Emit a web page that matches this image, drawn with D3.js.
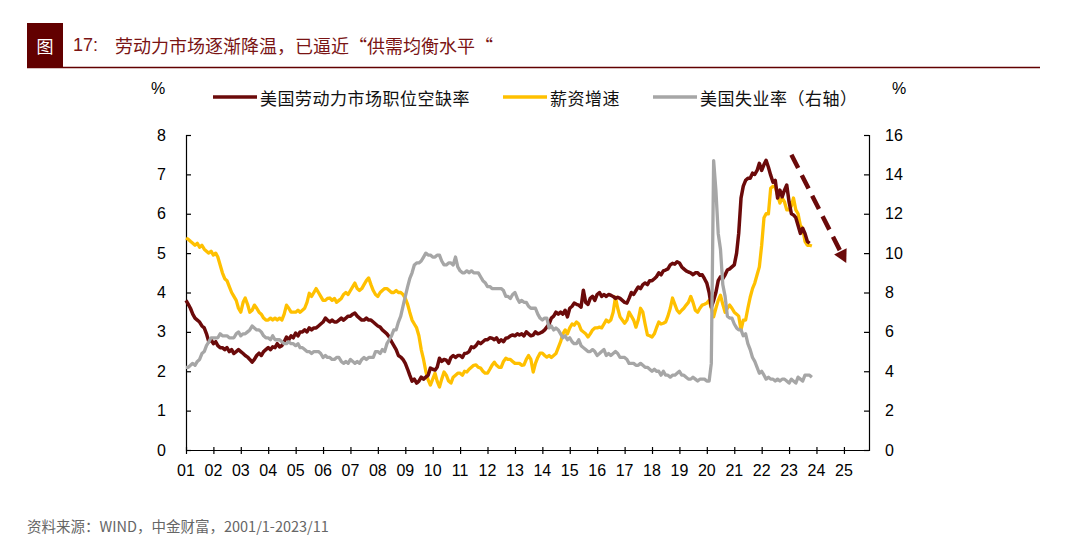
<!DOCTYPE html>
<html><head><meta charset="utf-8">
<script src="https://cdn.jsdelivr.net/npm/d3@7/dist/d3.min.js"></script>
<style>body{margin:0;background:#fff}svg{display:block}</style>
</head><body><svg id="c" width="1080" height="551"></svg>
<script>
// ---------- data ----------
const yearLabels = ["01","02","03","04","05","06","07","08","09","10","11","12","13","14","15","16","17","18","19","20","21","22","23","24","25"];
const seriesNames = ["美国劳动力市场职位空缺率","薪资增速","美国失业率（右轴）"];
const leftTicks = [0,1,2,3,4,5,6,7,8];
const rightTicks = [0,2,4,6,8,10,12,14,16];
const startYear = 2001; // monthly series start Jan 2001

// job openings rate (%), monthly 2001/1 - 2023/10
const jobOpenings = [
3.8,3.7,3.6,3.45,3.35,3.3,3.25,3.15,3.1,2.95,2.75,2.8,
2.7,2.75,2.65,2.6,2.6,2.55,2.6,2.5,2.55,2.45,2.5,2.55,
2.5,2.45,2.4,2.36,2.3,2.23,2.3,2.4,2.46,2.4,2.5,2.55,
2.6,2.55,2.62,2.6,2.7,2.62,2.65,2.75,2.87,2.8,2.9,2.85,
2.97,2.9,3.0,3.0,3.05,3.0,3.1,3.05,3.1,3.1,3.15,3.2,
3.25,3.35,3.3,3.25,3.3,3.25,3.25,3.3,3.35,3.3,3.35,3.4,
3.4,3.45,3.48,3.4,3.35,3.3,3.3,3.35,3.3,3.3,3.25,3.2,
3.15,3.12,3.05,3.0,2.95,2.87,2.75,2.65,2.55,2.4,2.36,2.3,
2.2,2.05,1.9,1.75,1.8,1.7,1.75,1.85,1.8,1.85,1.9,2.08,
2.05,2.03,2.1,2.33,2.25,2.3,2.28,2.2,2.35,2.4,2.35,2.4,
2.4,2.35,2.45,2.46,2.5,2.62,2.6,2.65,2.74,2.7,2.75,2.8,
2.8,2.85,2.84,2.8,2.85,2.74,2.8,2.75,2.84,2.85,2.9,2.92,
2.9,2.95,2.92,2.95,2.9,3.0,2.95,2.9,2.92,3.0,2.95,2.97,
3.0,3.05,3.12,3.2,3.35,3.4,3.5,3.45,3.5,3.45,3.55,3.38,
3.6,3.65,3.73,3.7,3.68,3.63,4.06,3.75,3.7,3.85,3.9,3.8,
3.95,4.0,3.9,3.95,3.9,3.95,3.93,3.9,3.85,3.88,3.85,3.8,
3.75,3.73,3.85,4.0,3.95,4.05,4.14,4.1,4.2,4.24,4.2,4.3,
4.3,4.35,4.4,4.5,4.45,4.55,4.57,4.6,4.7,4.74,4.72,4.78,
4.75,4.65,4.6,4.55,4.52,4.5,4.45,4.5,4.5,4.44,4.45,4.35,
4.24,4.0,3.63,3.8,4.0,4.3,4.4,4.35,4.45,4.57,4.6,4.65,
4.7,5.0,5.5,6.4,6.7,6.85,6.9,6.9,7.03,7.0,7.1,7.28,
7.1,7.25,7.36,7.18,6.98,6.8,6.85,6.4,6.6,6.43,6.6,6.73,
6.3,6.0,5.97,5.9,5.7,5.5,5.63,5.5,5.3,5.25
];

// wage growth (%), monthly 2001/1 - 2023/11
const wageGrowth = [
5.38,5.35,5.3,5.25,5.2,5.25,5.15,5.2,5.1,5.05,5.0,5.05,
4.95,5.0,4.9,4.7,4.5,4.35,4.3,4.15,4.0,3.9,3.8,3.6,
3.5,3.75,3.86,3.7,3.5,3.55,3.68,3.6,3.5,3.45,3.35,3.3,
3.3,3.35,3.3,3.35,3.3,3.35,3.3,3.45,3.68,3.6,3.5,3.5,
3.5,3.55,3.5,3.55,3.6,3.75,3.98,3.9,4.0,4.1,4.0,3.9,
3.8,3.8,3.85,3.86,3.8,3.85,3.75,3.8,3.85,3.95,4.0,3.95,
4.05,4.15,4.24,4.1,4.05,4.1,4.2,4.3,4.37,4.2,4.05,3.95,
3.9,4.0,4.05,4.1,4.1,4.05,4.0,4.0,4.05,4.0,4.0,3.95,
3.85,3.7,3.5,3.3,3.2,3.1,2.9,2.55,2.3,2.0,1.78,1.65,
1.8,1.95,1.75,1.6,1.8,1.98,1.9,1.75,1.7,1.85,1.9,1.95,
1.95,1.9,2.0,1.98,2.05,2.1,2.15,2.16,2.1,2.08,2.0,1.95,
1.95,2.05,2.15,2.23,2.15,2.1,2.1,2.25,2.33,2.3,2.3,2.25,
2.2,2.2,2.2,2.15,2.16,2.3,2.4,2.3,1.98,2.2,2.35,2.46,
2.46,2.4,2.36,2.4,2.35,2.4,2.45,2.6,2.75,2.95,3.05,2.95,
3.1,3.2,3.17,3.25,3.2,3.05,3.0,2.95,2.87,2.95,3.05,3.1,
3.1,3.12,3.1,3.2,3.3,3.25,3.3,3.5,3.88,3.6,3.38,3.3,
3.22,3.3,3.5,3.4,3.3,3.12,3.3,3.6,3.5,3.2,2.92,2.9,
2.87,2.95,3.1,3.25,3.2,3.22,3.25,3.4,3.6,3.86,3.7,3.55,
3.48,3.55,3.6,3.68,3.75,3.9,3.75,3.55,3.5,3.6,3.68,3.7,
3.73,3.8,3.6,3.38,3.6,3.8,3.93,3.7,3.5,3.6,3.68,3.6,
3.5,3.45,3.4,3.05,3.3,3.3,3.6,3.88,4.1,4.24,4.45,4.65,
5.2,5.9,6.0,6.0,6.65,6.7,6.68,6.47,6.27,6.4,6.3,6.1,
6.1,6.2,6.4,6.1,6.0,5.7,5.63,5.3,5.2,5.2,5.18
];

// unemployment rate (%), monthly 2001/1 - 2023/11 (right axis)
const unemployment = [
4.2,4.2,4.3,4.4,4.3,4.5,4.6,4.9,5.0,5.3,5.5,5.7,
5.7,5.7,5.7,5.9,5.8,5.8,5.8,5.7,5.7,5.7,5.9,6.0,
5.8,5.9,5.9,6.0,6.1,6.3,6.2,6.1,6.1,6.0,5.8,5.7,
5.7,5.6,5.8,5.6,5.6,5.6,5.5,5.4,5.4,5.5,5.4,5.4,
5.3,5.4,5.2,5.2,5.1,5.0,5.0,4.9,5.0,5.0,5.0,4.9,
4.7,4.8,4.7,4.7,4.6,4.6,4.7,4.7,4.5,4.4,4.5,4.4,
4.6,4.5,4.4,4.5,4.4,4.6,4.7,4.6,4.7,4.7,4.7,5.0,
5.0,4.9,5.1,5.0,5.4,5.6,5.8,6.1,6.1,6.5,6.8,7.3,
7.8,8.3,8.7,9.0,9.4,9.5,9.5,9.6,9.8,10.0,9.9,9.9,
9.8,9.8,9.9,9.9,9.6,9.4,9.4,9.5,9.5,9.4,9.8,9.3,
9.1,9.0,9.0,9.1,9.0,9.1,9.0,9.0,9.0,8.8,8.6,8.5,
8.3,8.3,8.2,8.2,8.2,8.2,8.2,8.1,7.8,7.8,7.7,7.9,
8.0,7.7,7.5,7.6,7.5,7.5,7.3,7.2,7.2,7.2,6.9,6.7,
6.6,6.7,6.7,6.2,6.3,6.1,6.2,6.1,5.9,5.7,5.8,5.6,
5.7,5.5,5.4,5.4,5.6,5.3,5.2,5.1,5.0,5.0,5.1,5.0,
4.8,4.9,5.0,5.1,4.8,4.9,4.8,4.9,5.0,4.9,4.7,4.7,
4.7,4.6,4.4,4.4,4.4,4.3,4.3,4.4,4.3,4.2,4.2,4.1,
4.0,4.1,4.0,4.0,3.8,4.0,3.8,3.8,3.7,3.8,3.8,3.9,
4.0,3.8,3.8,3.7,3.6,3.6,3.7,3.6,3.5,3.6,3.6,3.6,
3.5,3.5,4.4,14.7,13.2,11.0,10.2,8.4,7.8,6.8,6.7,6.7,
6.4,6.2,6.1,6.1,5.8,5.9,5.4,5.1,4.7,4.5,4.2,3.9,
4.0,3.8,3.6,3.7,3.6,3.6,3.5,3.6,3.5,3.6,3.6,3.5,
3.4,3.6,3.5,3.4,3.7,3.6,3.5,3.8,3.8,3.8,3.7
];

// annotation arrow (trend), in data units: [year, month index, left-axis value]
const arrowFrom = [2023, 1, 7.5];
const arrowTo = [2025, 1, 4.75];

// ---------- drawing ----------
const svg = d3.select("#c");
const CJK = "'Noto Sans CJK SC','Noto Sans',sans-serif";
const NUM = "'Liberation Sans',Arial,sans-serif";
const darkRed = "#6B0A0A", gold = "#FFC000", grey = "#A6A6A6";

svg.append("rect").attr("width",1080).attr("height",551).attr("fill","#fff");

// title block
svg.append("rect").attr("x",27).attr("y",23).attr("width",36).attr("height",44).attr("fill","#620000");
svg.append("text").attr("x",45).attr("y",45).attr("text-anchor","middle").attr("dominant-baseline","central")
  .attr("fill","#fff").style("font-family",CJK).style("font-size","17px").text("图");
svg.append("text").attr("x",73).attr("y",45).attr("dominant-baseline","central")
  .attr("fill","#7A1414").style("font-family",NUM).style("font-size","18px").text("17:");
svg.append("text").attr("x",115).attr("y",45).attr("dominant-baseline","central")
  .attr("fill","#7A1414").style("font-family",CJK).style("font-size","18px")
  .text("劳动力市场逐渐降温，已逼近“供需均衡水平“");
svg.append("line").attr("x1",27).attr("x2",1040).attr("y1",67.5).attr("y2",67.5)
  .attr("stroke","#620000").attr("stroke-width",1.6);

// scales
const x = d3.scaleTime().domain([new Date(2001,0,1), new Date(2025,11,1)]).range([186,869]);
const yL = d3.scaleLinear().domain([0,8]).range([450,135]);
const yR = d3.scaleLinear().domain([0,16]).range([450,135]);
const dateOf = i => new Date(startYear, i, 1);

// axes
const gL = svg.append("g").attr("transform","translate(186,0)")
  .call(d3.axisRight(yL).tickValues(leftTicks).tickSize(5).tickFormat(""));
const gR = svg.append("g").attr("transform","translate(869,0)")
  .call(d3.axisLeft(yR).tickValues(rightTicks).tickSize(5).tickFormat(""));
[gL,gR].forEach(g=>{g.select(".domain").attr("stroke","#000").attr("stroke-width",1.2);
  g.selectAll(".tick line").attr("stroke","#000").attr("stroke-width",1.2);});

svg.append("g").selectAll("text").data(leftTicks).join("text")
  .attr("x",166).attr("y",d=>yL(d)).attr("text-anchor","end").attr("dominant-baseline","central")
  .style("font-family",NUM).style("font-size","16px").attr("fill","#000").text(d=>d);
svg.append("g").selectAll("text").data(rightTicks).join("text")
  .attr("x",885).attr("y",d=>yR(d)).attr("text-anchor","start").attr("dominant-baseline","central")
  .style("font-family",NUM).style("font-size","16px").attr("fill","#000").text(d=>d);

const yearDates = yearLabels.map(s=>new Date(2000+(+s),0,1));
const gX = svg.append("g").attr("transform","translate(0,450)")
  .call(d3.axisBottom(x).tickValues(yearDates).tickSizeInner(4).tickSizeOuter(0).tickFormat(""));
gX.select(".domain").attr("stroke","#000").attr("stroke-width",1.2);
gX.selectAll(".tick line").attr("stroke","#000").attr("stroke-width",1.2).attr("y1",-3).attr("y2",4);
svg.append("g").selectAll("text").data(yearLabels).join("text")
  .attr("x",(d,i)=>x(yearDates[i])).attr("y",470).attr("text-anchor","middle").attr("dominant-baseline","central")
  .style("font-family",NUM).style("font-size","16px").attr("fill","#000").text(d=>d);

// % units
svg.append("text").attr("x",158).attr("y",88).attr("text-anchor","middle").attr("dominant-baseline","central")
  .style("font-family",NUM).style("font-size","16px").text("%");
svg.append("text").attr("x",899).attr("y",88).attr("text-anchor","middle").attr("dominant-baseline","central")
  .style("font-family",NUM).style("font-size","16px").text("%");

// lines
const lineL = d3.line().x((d,i)=>x(dateOf(i))).y(d=>yL(d));
const lineR = d3.line().x((d,i)=>x(dateOf(i))).y(d=>yR(d));
svg.append("path").datum(wageGrowth).attr("d",lineL).attr("fill","none")
  .attr("stroke",gold).attr("stroke-width",3.3).attr("stroke-linejoin","round");
svg.append("path").datum(jobOpenings).attr("d",lineL).attr("fill","none")
  .attr("stroke",darkRed).attr("stroke-width",3.5).attr("stroke-linejoin","round");
svg.append("path").datum(unemployment).attr("d",lineR).attr("fill","none")
  .attr("stroke",grey).attr("stroke-width",3.3).attr("stroke-linejoin","round");

// arrow annotation
const ax1 = x(new Date(arrowFrom[0],arrowFrom[1],1)), ay1 = yL(arrowFrom[2]);
const ax2 = x(new Date(arrowTo[0],arrowTo[1],1)), ay2 = yL(arrowTo[2]);
const ang = Math.atan2(ay2-ay1, ax2-ax1);
const headLen = 13, headW = 7;
const bx = ax2 - headLen*Math.cos(ang), by = ay2 - headLen*Math.sin(ang);
svg.append("line").attr("x1",ax1).attr("y1",ay1).attr("x2",bx).attr("y2",by)
  .attr("stroke",darkRed).attr("stroke-width",4.5).attr("stroke-dasharray","15,8");
svg.append("path").attr("fill",darkRed).attr("d",
  `M${ax2},${ay2} L${bx+headW*Math.sin(ang)},${by-headW*Math.cos(ang)} L${bx-headW*Math.sin(ang)},${by+headW*Math.cos(ang)} Z`);

// legend
const legend = [
  {name:seriesNames[0], color:darkRed, x:213},
  {name:seriesNames[1], color:gold, x:503},
  {name:seriesNames[2], color:grey, x:653}
];
const lg = svg.append("g");
legend.forEach(l=>{
  lg.append("line").attr("x1",l.x).attr("x2",l.x+44).attr("y1",97).attr("y2",97)
    .attr("stroke",l.color).attr("stroke-width",3.5);
  lg.append("text").attr("x",l.x+47).attr("y",97).attr("dominant-baseline","central")
    .style("font-family",CJK).style("font-size","17px").style("letter-spacing","0.5px").attr("fill","#111").text(l.name);
});

// source
svg.append("text").attr("x",27).attr("y",525).attr("dominant-baseline","central")
  .style("font-family",CJK).style("font-size","14.5px").attr("fill","#666")
  .text("资料来源：WIND，中金财富，2001/1-2023/11");
</script></body></html>
